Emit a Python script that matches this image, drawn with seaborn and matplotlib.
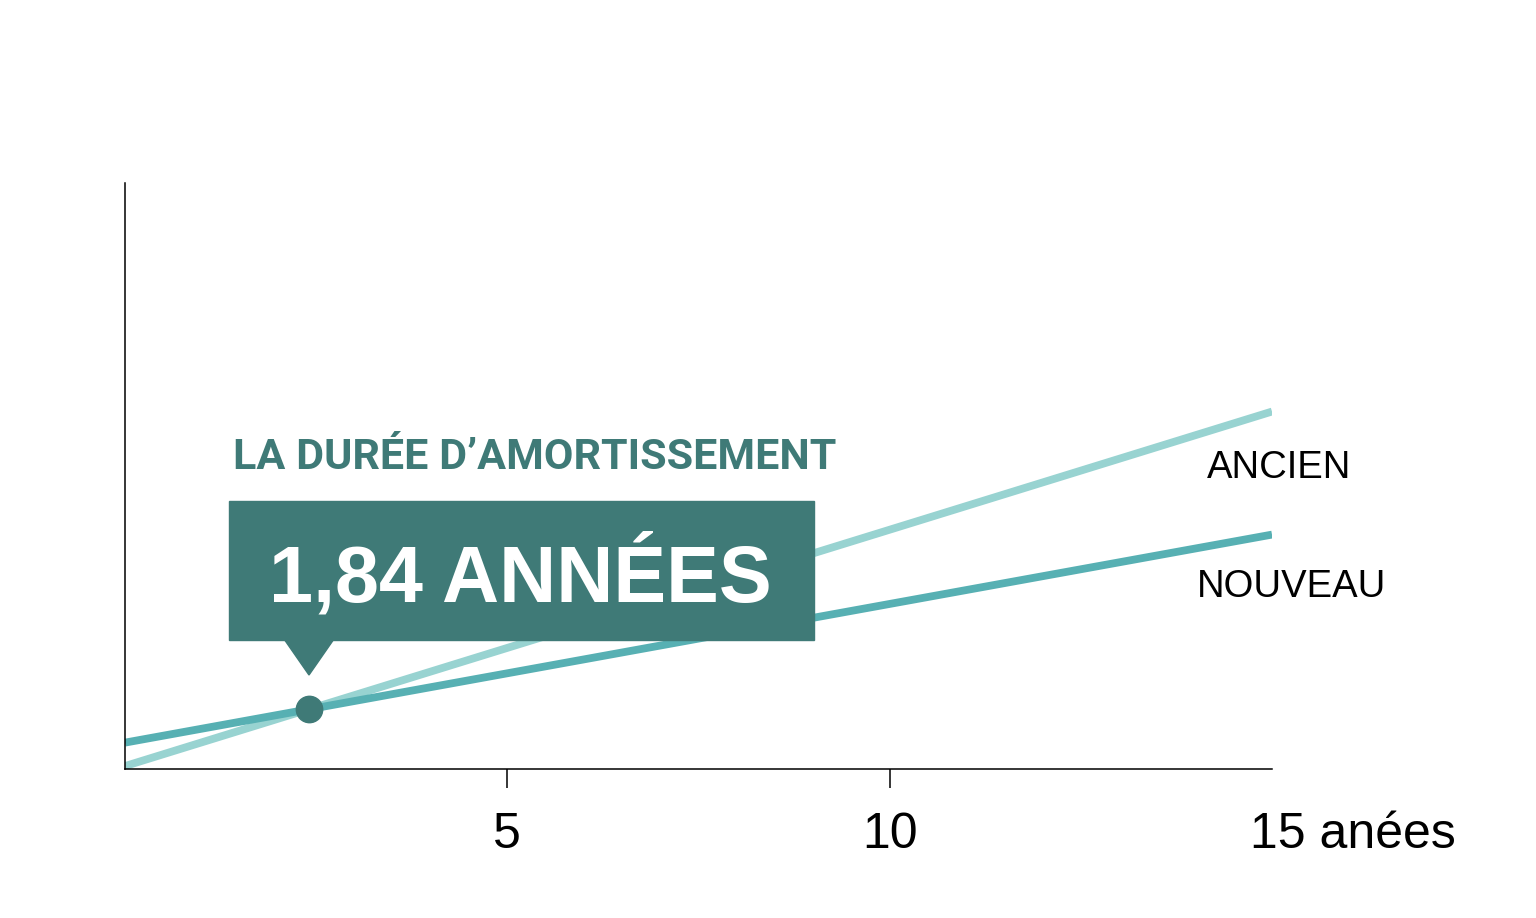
import numpy as np
import pandas as pd
import matplotlib
matplotlib.use("Agg")
import matplotlib.pyplot as plt
import seaborn as sns
from matplotlib.patches import Rectangle, Polygon
from matplotlib.transforms import ScaledTranslation

# Data (arbitrary cost units)
years = [0, 15]
ancien = [0.5, 61]
nouveau = [4.5, 40]
series_names = ["ANCIEN", "NOUVEAU"]
tick_values = [5, 10, 15]
tick_labels = ["5", "10", "15 anées"]
title_text = "LA DURÉE D’AMORTISSEMENT"
callout_text = "1,84 ANNÉES"

df = pd.DataFrame({
    "année": years * 2,
    "coût": ancien + nouveau,
    "série": [series_names[0]] * 2 + [series_names[1]] * 2,
})

# Colours
c_ancien = "#98d3d1"
c_nouveau = "#57b0b3"
c_dark = "#3f7a77"

sns.set_theme(style="white")
plt.rcParams["font.family"] = ["Liberation Sans", "DejaVu Sans"]

W, H = 1536, 918
fig = plt.figure(figsize=(W / 100, H / 100), dpi=100)
ax = fig.add_axes([125 / W, 1 - 769 / H, (1272 - 125) / W, (769 - 183) / H])


def fx(px):
    return px / W


def fy(py):
    return 1 - py / H


sns.lineplot(data=df, x="année", y="coût", hue="série",
             palette={series_names[0]: c_ancien, series_names[1]: c_nouveau},
             linewidth=5.6, legend=False, ax=ax, zorder=2)
for ln in ax.get_lines():
    ln.set_solid_capstyle("butt")

# intersection point of the two lines
sa = (ancien[1] - ancien[0]) / (years[1] - years[0])
sn = (nouveau[1] - nouveau[0]) / (years[1] - years[0])
x_cross = years[0] + (nouveau[0] - ancien[0]) / (sa - sn)
y_cross = ancien[0] + sa * (x_cross - years[0])
ax.plot([x_cross], [y_cross], "o", color=c_dark, markersize=19, zorder=4)

ax.set_xlim(0, 15)
ax.set_ylim(0, 100)
ax.set_yticks([])
ax.set_xticks(tick_values)
ax.set_xticklabels(tick_labels)
ax.set_xlabel("")
ax.set_ylabel("")
ax.tick_params(axis="x", direction="out", length=13.7, width=1.1,
               color="black", labelcolor="black", labelsize=36, pad=17, bottom=True)
for t in ax.xaxis.get_major_ticks()[2:]:
    t.tick1line.set_visible(False)
lab15 = ax.get_xticklabels()[2]
lab15.set_ha("left")
lab15.set_transform(lab15.get_transform() +
                    ScaledTranslation(-0.22, 0, fig.dpi_scale_trans))

for s in ["top", "right"]:
    ax.spines[s].set_visible(False)
for s in ["left", "bottom"]:
    ax.spines[s].set_color("black")
    ax.spines[s].set_linewidth(1.1)

# callout box
fig.patches.append(Rectangle((fx(229), fy(640)), fx(814) - fx(229), fy(501) - fy(640),
                             transform=fig.transFigure, color=c_dark, zorder=5))
fig.patches.append(Polygon([(fx(284), fy(639)), (fx(334), fy(639)), (fx(309), fy(675))],
                           closed=True, transform=fig.transFigure, color=c_dark, zorder=5))
fig.text(fx(520), fy(601), callout_text, color="white", fontsize=57,
         fontweight="bold", ha="center", va="baseline", zorder=6)
fig.text(fx(233), fy(469), title_text, color=c_dark, fontsize=31,
         fontweight="bold", ha="left", va="baseline", family=["Roboto", "DejaVu Sans"])

# series labels
fig.text(fx(1207), fy(478), series_names[0], color="black", fontsize=27.5,
         ha="left", va="baseline")
fig.text(fx(1197), fy(597), series_names[1], color="black", fontsize=27.5,
         ha="left", va="baseline")

fig.savefig("out.png", dpi=100, facecolor="white")
